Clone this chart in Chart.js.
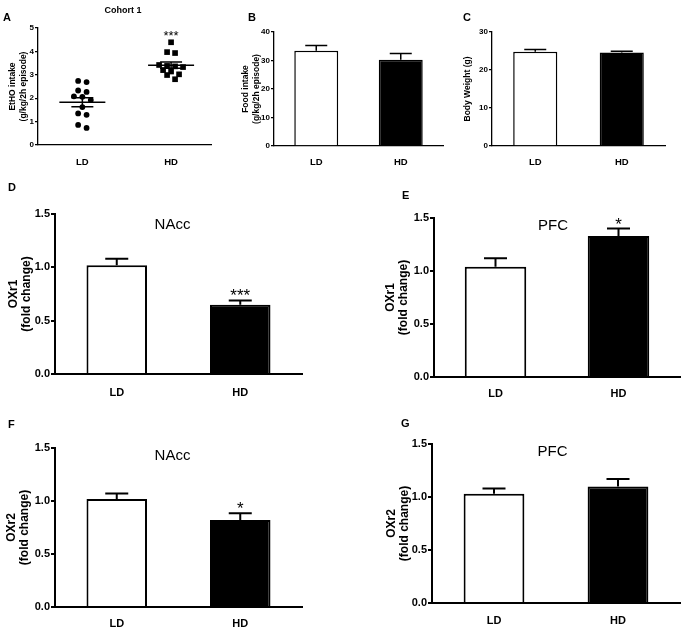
<!DOCTYPE html>
<html>
<head>
<meta charset="utf-8">
<script src="https://cdn.jsdelivr.net/npm/chart.js@4"></script>
<style>
html, body { margin: 0; padding: 0; background: #fff; }
#fig { position: relative; width: 685px; height: 628px; overflow: hidden; font-family: 'Liberation Sans', Arial, sans-serif; }
#fig canvas { position: absolute; }
.tag { position: absolute; font-weight: bold; font-size: 11px; line-height: 1; color: #000; }
</style>
</head>
<body>
<div id="fig">
  <canvas id="chartA"></canvas>
  <canvas id="chartB"></canvas>
  <canvas id="chartC"></canvas>
  <canvas id="chartD"></canvas>
  <canvas id="chartE"></canvas>
  <canvas id="chartF"></canvas>
  <canvas id="chartG"></canvas>
  <div class="tag" style="left:3px;top:12px">A</div>
  <div class="tag" style="left:248px;top:12px">B</div>
  <div class="tag" style="left:463px;top:12px">C</div>
  <div class="tag" style="left:8px;top:182px">D</div>
  <div class="tag" style="left:402px;top:190px">E</div>
  <div class="tag" style="left:8px;top:419px">F</div>
  <div class="tag" style="left:401px;top:418px">G</div>
</div>
<script>
const FONT = "'Liberation Sans', Arial, sans-serif";

// groups
const groups = ['LD', 'HD'];

// A: ethanol intake, individual animals
const ethanolLD = [2.74, 2.69, 2.33, 2.27, 2.08, 2.06, 1.92, 1.62, 1.35, 1.29, 0.86, 0.73];
const ethanolHD = [4.39, 3.97, 3.93, 3.42, 3.38, 3.36, 3.33, 3.20, 3.14, 3.02, 2.99, 2.81];
const ethanolStars = ['', '***'];

// B-C: mean and SEM
const foodMean = [33.4, 30.3];
const foodSem = [1.9, 2.2];
const weightMean = [24.8, 24.6];
const weightSem = [0.6, 0.35];

// D-G: fold change, mean and SEM
const ox1NAccMean = [1.02, 0.65];
const ox1NAccSem = [0.06, 0.04];
const ox1NAccStars = ['', '***'];
const ox1PfcMean = [1.04, 1.33];
const ox1PfcSem = [0.08, 0.07];
const ox1PfcStars = ['', '*'];
const ox2NAccMean = [1.02, 0.82];
const ox2NAccSem = [0.05, 0.065];
const ox2NAccStars = ['', '*'];
const ox2PfcMean = [1.03, 1.10];
const ox2PfcSem = [0.05, 0.07];
const ox2PfcStars = ['', ''];

// tick values
const ethanolTicks = [0, 1, 2, 3, 4, 5];
const foodTicks = [0, 10, 20, 30, 40];
const weightTicks = [0, 10, 20, 30];
const foldTicks = [0, 0.5, 1.0, 1.5];

Chart.defaults.animation = false;
Chart.defaults.font.family = FONT;
Chart.defaults.color = '#000';
Chart.defaults.plugins.legend.display = false;
Chart.defaults.plugins.tooltip.enabled = false;

// spread points of one group sideways, row by row
function swarm(values, step, rowGap) {
    const order = values.map((v, i) => i).sort((a, b) => values[b] - values[a]);
    const offsets = values.map(() => 0);
    let row = [];
    const flush = () => {
        row.forEach((idx, k) => { offsets[idx] = (k - (row.length - 1) / 2) * step; });
        row = [];
    };
    order.forEach(idx => {
        if (row.length && values[row[0]] - values[idx] > rowGap) flush();
        row.push(idx);
    });
    flush();
    return offsets;
}

const errorBars = {
    id: 'errorBars',
    afterDatasetsDraw(chart, args, opts) {
        const { ctx } = chart;
        const yScale = chart.scales.y;
        chart.data.datasets.forEach((ds, di) => {
            if (!ds.errors) return;
            chart.getDatasetMeta(di).data.forEach((bar, i) => {
                const top = yScale.getPixelForValue(ds.data[i] + ds.errors[i]);
                ctx.save();
                ctx.strokeStyle = '#000';
                ctx.lineWidth = opts.lineWidth;
                ctx.beginPath();
                ctx.moveTo(bar.x, bar.y);
                ctx.lineTo(bar.x, top);
                ctx.moveTo(bar.x - opts.cap, top);
                ctx.lineTo(bar.x + opts.cap, top);
                ctx.stroke();
                if (ds.stars && ds.stars[i]) {
                    ctx.fillStyle = '#000';
                    ctx.font = opts.starFont;
                    ctx.textAlign = 'center';
                    ctx.textBaseline = 'alphabetic';
                    ctx.fillText(ds.stars[i], bar.x, top + opts.starShift);
                }
                ctx.restore();
            });
        });
    }
};

const meanSem = {
    id: 'meanSem',
    afterDatasetsDraw(chart, args, opts) {
        if (!opts.enabled) return;
        const { ctx } = chart;
        const xScale = chart.scales.x, yScale = chart.scales.y;
        chart.data.datasets.forEach((ds, i) => {
            const vals = ds.data.map(p => p.y);
            const n = vals.length;
            const mean = vals.reduce((a, b) => a + b, 0) / n;
            const sd = Math.sqrt(vals.reduce((a, b) => a + (b - mean) ** 2, 0) / (n - 1));
            const sem = sd / Math.sqrt(n);
            const cx = xScale.getPixelForValue(i);
            const ym = yScale.getPixelForValue(mean);
            const yHi = yScale.getPixelForValue(mean + sem);
            const yLo = yScale.getPixelForValue(mean - sem);
            ctx.save();
            ctx.strokeStyle = '#000';
            ctx.lineWidth = opts.lineWidth;
            ctx.beginPath();
            ctx.moveTo(cx - opts.meanHalf, ym); ctx.lineTo(cx + opts.meanHalf, ym);
            ctx.moveTo(cx - opts.semHalf, yHi); ctx.lineTo(cx + opts.semHalf, yHi);
            ctx.moveTo(cx - opts.semHalf, yLo); ctx.lineTo(cx + opts.semHalf, yLo);
            ctx.moveTo(cx, yHi); ctx.lineTo(cx, yLo);
            ctx.stroke();
            if (ds.stars && ds.stars[i]) {
                const top = yScale.getPixelForValue(Math.max(...vals));
                ctx.fillStyle = '#000';
                ctx.font = opts.starFont;
                ctx.textAlign = 'center';
                ctx.fillText(ds.stars[i], cx, top + opts.starShift);
            }
            ctx.restore();
        });
    }
};

const panelTitle = {
    id: 'panelTitle',
    afterDraw(chart, args, opts) {
        if (!opts.text) return;
        const { ctx, chartArea } = chart;
        ctx.save();
        ctx.fillStyle = '#000';
        ctx.font = opts.font;
        ctx.textAlign = 'center';
        ctx.textBaseline = 'alphabetic';
        ctx.fillText(opts.text, (chartArea.left + chartArea.right) / 2 + opts.dx, chartArea.top + opts.dy);
        ctx.restore();
    }
};

// small panels (A-C) and large panels (D-G)
const small = {
    axisWidth: 1.3, tickLen: 3,
    tickFont: { size: 8, weight: 'bold' },
    xFont: { size: 9.5, weight: 'bold' },
    titleFont: { size: 8.5, weight: 'bold', lineHeight: 1.3 },
    errorBars: { lineWidth: 1.5, cap: 11, starFont: 'bold 13px ' + FONT, starShift: 0 }
};
const large = {
    axisWidth: 2, tickLen: 4,
    tickFont: { size: 11, weight: 'bold' },
    xFont: { size: 11, weight: 'bold' },
    titleFont: { size: 12, weight: 'bold', lineHeight: 1.12 },
    errorBars: { lineWidth: 2, cap: 11.5, starFont: '17px ' + FONT, starShift: 1 }
};

function makeChart(id, box, plot, style, cfg) {
    const canvas = document.getElementById(id);
    canvas.width = box.width;
    canvas.height = box.height;
    canvas.style.left = box.left + 'px';
    canvas.style.top = box.top + 'px';
    const yAxisWidth = plot.left - box.left;
    const xAxisHeight = box.top + box.height - plot.bottom;
    const yTicks = cfg.yTicks;

    const xTicks = { color: '#000', font: style.xFont, padding: cfg.xPad, maxRotation: 0, autoSkip: false };
    const xScale = Object.assign({
        grid: { display: false },
        border: { display: true, color: '#000', width: style.axisWidth },
        afterFit: s => { s.height = xAxisHeight; }
    }, cfg.xScale || {});
    xScale.ticks = Object.assign(xTicks, (cfg.xScale && cfg.xScale.ticks) || {});

    return new Chart(canvas, {
        type: cfg.type,
        data: cfg.data,
        plugins: [errorBars, meanSem, panelTitle],
        options: {
            responsive: false,
            devicePixelRatio: 1,
            layout: { padding: { left: 0, top: plot.top - box.top, right: box.left + box.width - plot.right, bottom: 0 } },
            plugins: {
                errorBars: style.errorBars,
                meanSem: cfg.meanSem || { enabled: false },
                panelTitle: cfg.title || {}
            },
            scales: {
                x: xScale,
                y: {
                    min: yTicks[0],
                    max: yTicks[yTicks.length - 1],
                    afterBuildTicks: s => { s.ticks = yTicks.map(v => ({ value: v })); },
                    grid: { display: true, drawOnChartArea: false, drawTicks: true, tickLength: style.tickLen, color: '#000', lineWidth: style.axisWidth },
                    border: { display: true, color: '#000', width: style.axisWidth },
                    ticks: { color: '#000', font: style.tickFont, padding: 1, callback: cfg.yFormat || (v => v) },
                    title: { display: true, text: cfg.yTitle, color: '#000', font: style.titleFont, padding: { top: cfg.titlePad, bottom: 0 } },
                    afterFit: s => { s.width = yAxisWidth; }
                }
            }
        }
    });
}

function barData(means, sems, stars, pct, borderWidth) {
    return {
        labels: groups,
        datasets: [{
            data: means,
            errors: sems,
            stars: stars,
            backgroundColor: ['#ffffff', '#000000'],
            borderColor: '#000',
            borderWidth: borderWidth,
            borderSkipped: 'start',
            barPercentage: pct,
            categoryPercentage: 1
        }]
    };
}

const fold = v => v.toFixed(1);

// A: scatter with mean and SEM
const ldOffsets = swarm(ethanolLD, 0.095, 0.2);
const hdOffsets = swarm(ethanolHD, 0.09, 0.2);
makeChart('chartA', { left: 0, top: 0, width: 228, height: 170 }, { left: 38, right: 211, top: 28, bottom: 145 }, small, {
    type: 'scatter',
    data: {
        datasets: [
            { data: ethanolLD.map((v, i) => ({ x: 0 + ldOffsets[i], y: v })), pointStyle: 'circle', pointRadius: 2.9, backgroundColor: '#000', borderWidth: 0, stars: ethanolStars },
            { data: ethanolHD.map((v, i) => ({ x: 1 + hdOffsets[i], y: v })), pointStyle: 'rect', pointRadius: 4, backgroundColor: '#000', borderWidth: 0, stars: ethanolStars }
        ]
    },
    xScale: {
        type: 'linear', min: -0.5, max: 1.45,
        afterBuildTicks: s => { s.ticks = groups.map((g, i) => ({ value: i })); },
        ticks: { callback: v => groups[v] }
    },
    xPad: 4,
    yTicks: ethanolTicks,
    yTitle: ['EtHO intake', '(g/kg/2h episode)'],
    titlePad: 7.5,
    meanSem: { enabled: true, lineWidth: 1.5, meanHalf: 23, semHalf: 11, starFont: '13px ' + FONT, starShift: -2 },
    title: { text: 'Cohort 1', font: 'bold 9px ' + FONT, dx: -1.5, dy: -14.7 }
});

makeChart('chartB', { left: 228, top: 0, width: 226, height: 170 }, { left: 274, right: 443, top: 32, bottom: 146 }, small, {
    type: 'bar',
    data: barData(foodMean, foodSem, null, 0.52, 1.5),
    xPad: 3,
    yTicks: foodTicks,
    yTitle: ['Food intake', '(g/kg/2h episode)'],
    titlePad: 12
});

makeChart('chartC', { left: 455, top: 0, width: 230, height: 170 }, { left: 492, right: 665, top: 32, bottom: 146 }, small, {
    type: 'bar',
    data: barData(weightMean, weightSem, null, 0.51, 1.5),
    xPad: 3,
    yTicks: weightTicks,
    yTitle: 'Body Weight (g)',
    titlePad: 7
});

makeChart('chartD', { left: 0, top: 180, width: 335, height: 220 }, { left: 55, right: 302, top: 214, bottom: 374 }, large, {
    type: 'bar',
    data: barData(ox1NAccMean, ox1NAccSem, ox1NAccStars, 0.49, 2),
    xPad: 4,
    yTicks: foldTicks,
    yFormat: fold,
    yTitle: ['OXr1', '(fold change)'],
    titlePad: 6.5,
    title: { text: 'NAcc', font: '15px ' + FONT, dx: -6, dy: 15 }
});

makeChart('chartE', { left: 380, top: 180, width: 305, height: 220 }, { left: 434, right: 680, top: 218, bottom: 377 }, large, {
    type: 'bar',
    data: barData(ox1PfcMean, ox1PfcSem, ox1PfcStars, 0.5, 2),
    xPad: 2,
    yTicks: foldTicks,
    yFormat: fold,
    yTitle: ['OXr1', '(fold change)'],
    titlePad: 3.5,
    title: { text: 'PFC', font: '15px ' + FONT, dx: -4, dy: 12.3 }
});

makeChart('chartF', { left: 0, top: 410, width: 335, height: 218 }, { left: 55, right: 302, top: 448, bottom: 607 }, large, {
    type: 'bar',
    data: barData(ox2NAccMean, ox2NAccSem, ox2NAccStars, 0.49, 2),
    xPad: 2,
    yTicks: foldTicks,
    yFormat: fold,
    yTitle: ['OXr2', '(fold change)'],
    titlePad: 4.5,
    title: { text: 'NAcc', font: '15px ' + FONT, dx: -6, dy: 11.7 }
});

makeChart('chartG', { left: 380, top: 410, width: 305, height: 218 }, { left: 432, right: 680, top: 444, bottom: 603 }, large, {
    type: 'bar',
    data: barData(ox2PfcMean, ox2PfcSem, ox2PfcStars, 0.49, 2),
    xPad: 3,
    yTicks: foldTicks,
    yFormat: fold,
    yTitle: ['OXr2', '(fold change)'],
    titlePad: 4.5,
    title: { text: 'PFC', font: '15px ' + FONT, dx: -3.5, dy: 12.3 }
});
</script>
</body>
</html>
